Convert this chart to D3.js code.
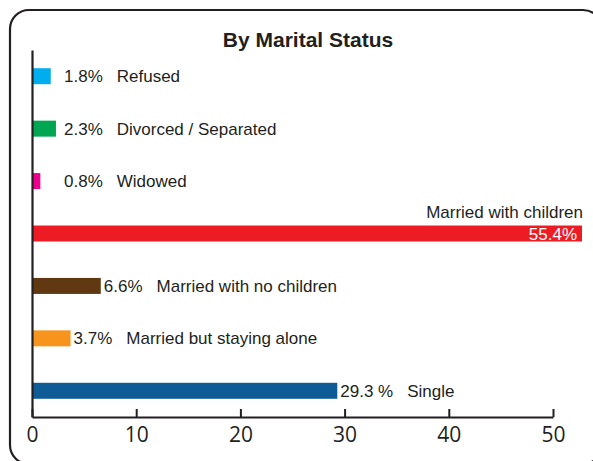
<!DOCTYPE html>
<html>
<head>
<meta charset="utf-8">
<script src="https://cdn.jsdelivr.net/npm/d3@7"></script>
<style>
  html, body { margin: 0; padding: 0; background: #fff; }
  svg { display: block; }
</style>
</head>
<body>
<svg id="chart" width="593" height="461"></svg>
<script>
// ---- data ----
const categories = ["Refused", "Divorced / Separated", "Widowed", "Married with children",
                    "Married with no children", "Married but staying alone", "Single"];
const values = [1.8, 2.3, 0.8, 55.4, 6.6, 3.7, 29.3];
const valueLabels = ["1.8%", "2.3%", "0.8%", "55.4%", "6.6%", "3.7%", "29.3 %"];
const colors = ["#00aeef", "#00a651", "#ec008c", "#ed1c24", "#603913", "#f7941d", "#0f5b95"];
const xTicks = [0, 10, 20, 30, 40, 50];
const title = "By Marital Status";

(function () {
// ---- layout ----
const ink = "#231f20";
const labelFont = "'Liberation Sans', Arial, Helvetica, sans-serif";
const plotL = 32, plotR = 553, plotT = 50, plotB = 417;
const barCap = 582;         // inner right edge of the frame
const valueColumn = 64;     // minimum x of the value labels
const nameGap = 14;

const svg = d3.select("#chart");

// frame
svg.append("rect")
  .attr("x", 10).attr("y", 10)
  .attr("width", 592).attr("height", 454)
  .attr("rx", 19).attr("ry", 19)
  .attr("fill", "none").attr("stroke", ink).attr("stroke-width", 2.2);

// title
svg.append("text")
  .attr("x", 308).attr("y", 47)
  .attr("text-anchor", "middle")
  .attr("font-family", labelFont)
  .attr("font-weight", "bold")
  .attr("font-size", 21)
  .attr("fill", ink)
  .text(title);

const x = d3.scaleLinear().domain([0, 50]).range([plotL, plotR]);
const y = d3.scaleBand().domain(categories).range([plotT, plotB])
  .paddingInner(0.695).paddingOuter(0.3475);

const rows = categories.map((c, i) => ({ cat: c, v: values[i], lab: valueLabels[i], col: colors[i] }));

// bars
svg.append("g").selectAll("rect").data(rows).join("rect")
  .attr("x", x(0))
  .attr("y", d => y(d.cat))
  .attr("width", d => Math.min(x(d.v), barCap) - x(0))
  .attr("height", y.bandwidth())
  .attr("fill", d => d.col);

// labels
const lg = svg.append("g").attr("font-family", labelFont).attr("font-size", 17).attr("fill", ink);
rows.forEach(d => {
  const end = Math.min(x(d.v), barCap);
  const cy = y(d.cat) + y.bandwidth() / 2;
  if (x(d.v) > barCap - 60) {
    // long bar: name above, value inside
    lg.append("text").attr("x", end + 1).attr("y", y(d.cat) - 8)
      .attr("text-anchor", "end").text(d.cat);
    lg.append("text").attr("x", end - 5).attr("y", cy + 6)
      .attr("text-anchor", "end").attr("fill", "#ffffff").text(d.lab);
  } else {
    const vx = Math.max(end + 3, valueColumn);
    const t = lg.append("text").attr("x", vx).attr("y", cy + 6).text(d.lab);
    const w = t.node().getComputedTextLength();
    lg.append("text").attr("x", vx + w + nameGap).attr("y", cy + 6).text(d.cat);
  }
});

// y axis (plain line)
const ya = svg.append("g").attr("transform", `translate(${plotL},0)`)
  .call(d3.axisLeft(y).tickSize(0).tickFormat(""));
ya.select(".domain").attr("stroke", ink).attr("stroke-width", 2.2);

// x axis
const xa = svg.append("g").attr("transform", `translate(0,${plotB})`)
  .call(d3.axisBottom(x).tickValues(xTicks).tickFormat(d3.format("d"))
    .tickSize(-8).tickSizeOuter(0).tickPadding(10));
xa.select(".domain").attr("stroke", ink).attr("stroke-width", 2.2);
xa.selectAll(".tick line").attr("stroke", ink).attr("stroke-width", 2);
xa.selectAll(".tick text")
  .attr("font-family", "'Open Sans', 'Liberation Sans', sans-serif")
  .attr("font-size", 21)
  .attr("fill", ink);
})();
</script>
</body>
</html>
